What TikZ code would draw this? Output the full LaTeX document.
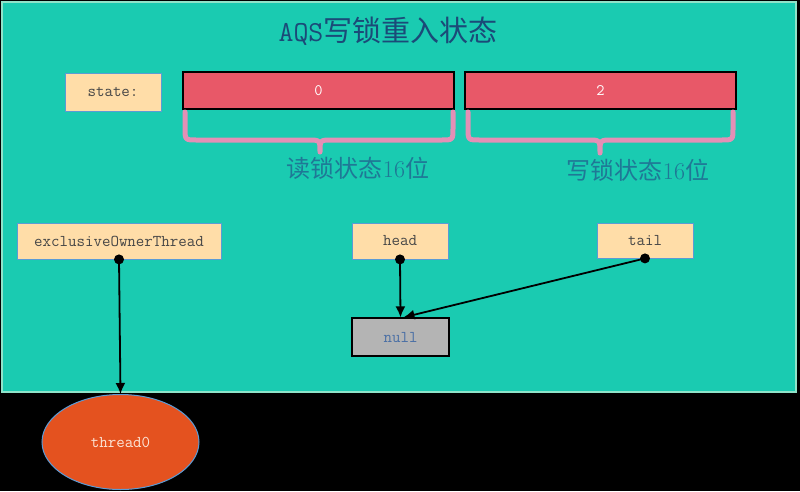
\documentclass[tikz,border=0pt]{standalone}
\usepackage{fontspec}
\newfontfamily\cjk{Noto Sans CJK SC}
\usetikzlibrary{arrows.meta,shapes.geometric}
\definecolor{bgteal}{HTML}{1ACBB1}
\definecolor{tealedge}{HTML}{8FE3C9}
\definecolor{peach}{HTML}{FFDDA8}
\definecolor{peachedge}{HTML}{5B9BD5}
\definecolor{redbox}{HTML}{E85868}
\definecolor{bracepink}{HTML}{E390B6}
\definecolor{titleblue}{HTML}{1B4A78}
\definecolor{labelblue}{HTML}{1F7896}
\definecolor{nullgray}{HTML}{B4B4B4}
\definecolor{nulltext}{HTML}{4A6FA5}
\definecolor{threadred}{HTML}{E4521F}
\definecolor{threadtext}{HTML}{FCE4D6}
\tikzset{
  field/.style={draw=peachedge, line width=0.8pt, fill=peach, inner sep=0pt,
    font=\fontsize{16.5}{17}\selectfont\ttfamily, text=black!72},
  bits/.style={draw=black, line width=1.3pt, fill=redbox, inner sep=0pt,
    minimum width=271pt, minimum height=37pt,
    font=\fontsize{16}{17}\selectfont\ttfamily, text=white},
  nullbox/.style={draw=black, line width=1.3pt, fill=nullgray, inner sep=0pt,
    font=\fontsize{16.5}{17}\selectfont\ttfamily, text=nulltext},
  threadnode/.style={ellipse, draw=peachedge, line width=1pt, fill=threadred, inner sep=0pt,
    font=\fontsize{16.5}{17}\selectfont\ttfamily, text=threadtext},
  bracepath/.style={draw=bracepink, line width=5pt, line cap=round, line join=round},
  sublabel/.style={font=\fontsize{24}{24}\selectfont, text=labelblue, inner sep=0pt},
  ptr/.style={draw=black, line width=1.8pt, -{Latex[length=11pt,width=10pt]}},
  dot/.style={fill=black}
}
\begin{document}
\begin{tikzpicture}[x=1pt,y=-1pt]
\fill[black] (0,0) rectangle (800,491);
\useasboundingbox (0,0) rectangle (800,491);
\draw[draw=tealedge, fill=bgteal, line width=1.5pt] (2,2) rectangle (796,392);

\node[inner sep=0pt, text=titleblue, font=\fontsize{29}{29}\selectfont] (title) at (388,31)
  {{\ttfamily AQS}{\cjk 写锁重入状态}};

\node[field, minimum width=96pt, minimum height=38pt] (state) at (113,92) {state:\ };
\node[bits] (read) at (318.5,90.5) {0};
\node[bits] (write) at (600.5,90.5) {2};

% braces
\draw[bracepath] (185,112) -- (185,128) .. controls (185,140) .. (197,140) -- (308,140)
  .. controls (320,140) .. (320,152) .. controls (320,140) .. (332,140) -- (441,140)
  .. controls (453,140) .. (453,128) -- (453,112);
\draw[bracepath] (468,112) -- (468,128) .. controls (468,140) .. (480,140) -- (588,140)
  .. controls (600,140) .. (600,153) .. controls (600,140) .. (612,140) -- (721,140)
  .. controls (733,140) .. (733,128) -- (733,112);

\node[sublabel] (readlbl) at (358,168) {{\cjk 读锁状态}16{\cjk 位}};
\node[sublabel] (writelbl) at (638,170) {{\cjk 写锁状态}16{\cjk 位}};

\node[field, minimum width=204pt, minimum height=36pt] (owner) at (119,241) {exclusiveOwnerThread};
\node[field, minimum width=96pt, minimum height=36pt] (head) at (400,241) {head};
\node[field, minimum width=96pt, minimum height=35pt] (tail) at (645,240.5) {tail};
\node[nullbox, minimum width=97pt, minimum height=38pt] (nul) at (400.5,337) {null};
\node[threadnode, minimum width=157pt, minimum height=95pt] (thread) at (120.5,442) {thread0};

\draw[ptr] (owner.south) -- (thread.north);
\draw[ptr] (head.south) -- (nul.north);
\draw[ptr] (tail.south) -- ([xshift=3pt]nul.north);
\fill[dot] (owner.south) circle (5);
\fill[dot] (head.south) circle (5);
\fill[dot] (tail.south) circle (5);
\end{tikzpicture}
\end{document}
